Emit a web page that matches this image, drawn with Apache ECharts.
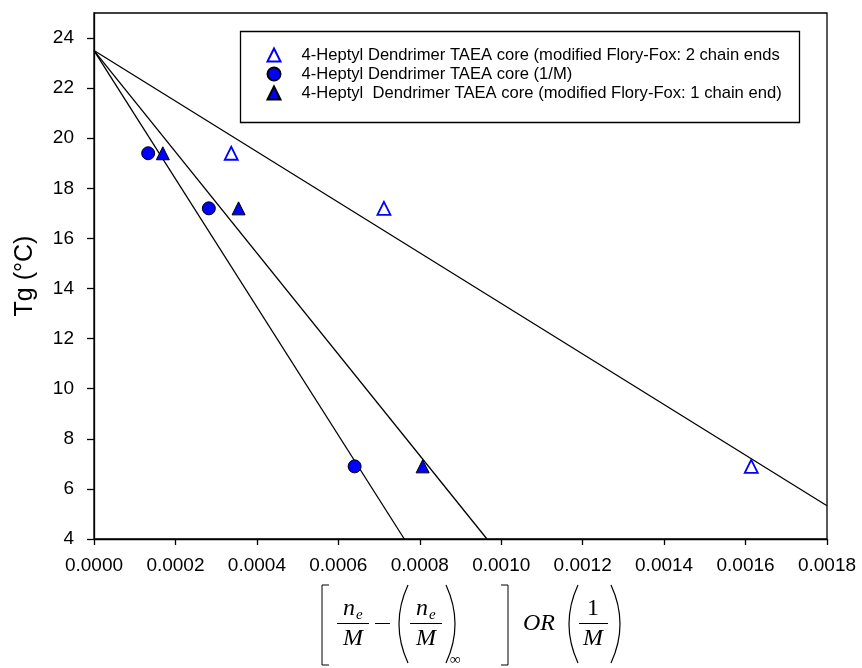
<!DOCTYPE html>
<html>
<head>
<meta charset="utf-8">
<script src="https://cdn.jsdelivr.net/npm/echarts@6/dist/echarts.min.js"></script>
<style>
html,body{margin:0;padding:0;background:#fff;}
#chart{width:862px;height:668px;}
</style>
</head>
<body>
<div id="chart"></div>
<script>
// ---- data ----
const seriesNames = [
  '4-Heptyl Dendrimer TAEA core (modified Flory-Fox: 2 chain ends',
  '4-Heptyl Dendrimer TAEA core (1/M)',
  '4-Heptyl  Dendrimer TAEA core (modified Flory-Fox: 1 chain end)'
];
const twoEndsX = [0.000337, 0.000712, 0.001614];
const twoEndsY = [19.4, 17.2, 6.9];
const invMX = [0.000133, 0.000282, 0.00064];
const invMY = [19.4, 17.2, 6.9];
const oneEndX = [0.000169, 0.000355, 0.000807];
const oneEndY = [19.4, 17.2, 6.9];
// regression lines (end points)
const fitTwoEndsX = [0, 0.0018];
const fitTwoEndsY = [23.5, 5.33];
const fitInvMX = [0, 0.000762];
const fitInvMY = [23.5, 4];
const fitOneEndX = [0, 0.000965];
const fitOneEndY = [23.5, 4];
const yTicks = [4, 6, 8, 10, 12, 14, 16, 18, 20, 22, 24];

const zip = (xs, ys) => xs.map((x, i) => [x, ys[i]]);
const FONT = '"Liberation Sans", Arial, sans-serif';
const SERIF = '"Liberation Serif", "Times New Roman", serif';

const chart = echarts.init(document.getElementById('chart'), null, {renderer: 'canvas'});

const lineStyle = {color: '#000', width: 1.3};
const fitLine = (xs, ys) => ({
  type: 'line', data: zip(xs, ys), showSymbol: false, symbol: 'none',
  lineStyle: lineStyle, silent: true, z: 1, animation: false
});

// formula graphics for x-axis title
const txt = (t, x, y, font, align) => ({
  type: 'text', style: {text: t, x: x, y: y, font: font, fill: '#000',
  align: align || 'center', verticalAlign: 'middle'}
});
const ln = (x1, y1, x2, y2) => ({type: 'line', shape: {x1, y1, x2, y2}, style: {stroke: '#000', lineWidth: 1}});
const paren = (x, top, bot, dir) => ({type: 'bezierCurve',
  shape: {x1: x, y1: top, x2: x, y2: bot, cpx1: x - dir * 18, cpy1: (top + bot) / 2},
  style: {stroke: '#000', lineWidth: 1.2, fill: null}});
const IT = 'italic 24px ' + SERIF;
const SUB = 'italic 15px ' + SERIF;
const BAR = 623.5;
const formula = [
  // [
  ln(322, 585, 322, 665), ln(322, 585, 329, 585), ln(322, 665, 329, 665),
  // n_e / M
  txt('n', 349, 609, IT), txt('e', 356, 615, SUB, 'left'), ln(337, BAR, 369, BAR), txt('M', 353, 639, IT),
  // minus
  ln(375, BAR, 390, BAR),
  // ( n_e/M )_inf
  paren(408, 585, 663, 1),
  txt('n', 422, 609, IT), txt('e', 429, 615, SUB, 'left'), ln(410, BAR, 442, BAR), txt('M', 426, 639, IT),
  paren(446, 585, 663, -1),
  txt('\u221E', 450, 660, '15px ' + SERIF, 'left'),
  // ]
  ln(508, 585, 508, 665), ln(501, 585, 508, 585), ln(501, 665, 508, 665),
  // OR
  txt('OR', 539, 624, IT),
  // (1/M)
  paren(578, 585, 663, 1),
  txt('1', 593, 609, '24px ' + SERIF), ln(579, BAR, 608, BAR), txt('M', 593, 639, IT),
  paren(611, 585, 663, -1)
];

const option = {
  animation: false,
  backgroundColor: '#fff',
  grid: {left: 94, right: 35, top: 13, bottom: 129, show: true, borderColor: '#000', borderWidth: 1.3, containLabel: false},
  xAxis: {
    type: 'value', min: 0, max: 0.0018, interval: 0.0002,
    axisLine: {show: true, lineStyle: {color: '#000', width: 1.3}},
    axisTick: {show: true, inside: false, length: 6, lineStyle: {color: '#000', width: 1.3}},
    axisLabel: {color: '#000', fontFamily: FONT, fontSize: 19, margin: 17,
      formatter: v => v.toFixed(4)},
    splitLine: {show: false}
  },
  yAxis: {
    type: 'value', min: 4, max: 25,
    name: 'Tg (\u00B0C)', nameLocation: 'middle', nameRotate: 90, nameGap: 56,
    nameTextStyle: {color: '#000', fontFamily: FONT, fontSize: 25},
    axisLine: {show: true, lineStyle: {color: '#000', width: 1.3}},
    axisTick: {show: true, inside: false, length: 7, customValues: yTicks, lineStyle: {color: '#000', width: 1.3}},
    axisLabel: {color: '#000', fontFamily: FONT, fontSize: 19, margin: 20, customValues: yTicks},
    splitLine: {show: false}
  },
  legend: {
    orient: 'vertical', left: 238, top: 29,
    padding: [16.5, 14, 16, 28.5],
    itemWidth: 13, itemHeight: 13, itemGap: 0,
    data: seriesNames,
    textStyle: {color: '#000', fontFamily: FONT, fontSize: 16.6, lineHeight: 19, padding: [0, 0, 0, 16]},
    selectedMode: false
  },
  graphic: [
    {type: 'rect', left: 238, top: 29, shape: {width: 559, height: 91}, style: {fill: null, stroke: '#000', lineWidth: 1.3}, z: 100}
  ].concat(formula),
  series: [
    fitLine(fitTwoEndsX, fitTwoEndsY),
    fitLine(fitInvMX, fitInvMY),
    fitLine(fitOneEndX, fitOneEndY),
    {name: seriesNames[0], type: 'scatter', data: zip(twoEndsX, twoEndsY), symbol: 'triangle', symbolSize: 13,
      itemStyle: {color: 'rgba(0,0,0,0)', borderColor: '#0000FF', borderWidth: 1.8, opacity: 1}, z: 5},
    {name: seriesNames[1], type: 'scatter', data: zip(invMX, invMY), symbol: 'circle', symbolSize: 13,
      itemStyle: {color: '#0000FF', borderColor: '#000', borderWidth: 1, opacity: 1}, z: 5},
    {name: seriesNames[2], type: 'scatter', data: zip(oneEndX, oneEndY), symbol: 'triangle', symbolSize: 13,
      itemStyle: {color: '#0000FF', borderColor: '#000', borderWidth: 1, opacity: 1}, z: 5}
  ]
};
chart.setOption(option);
</script>
</body>
</html>
